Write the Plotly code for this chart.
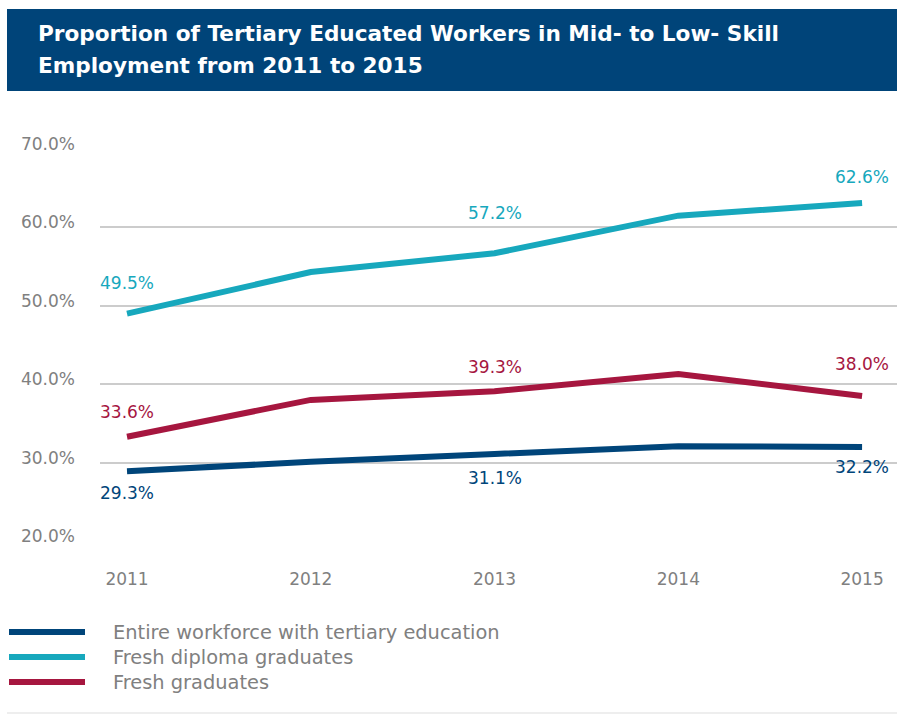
import plotly.graph_objects as go

years = [2011, 2012, 2013, 2014, 2015]
series_names = ["Entire workforce with tertiary education", "Fresh diploma graduates", "Fresh graduates"]
entire = [28.9, 30.1, 31.1, 32.1, 32.0]
diploma = [49.0, 54.3, 56.7, 61.5, 63.1]
graduates = [33.3, 38.0, 39.1, 41.3, 38.5]

label_years = [2011, 2013, 2015]
entire_labels = [29.3, 31.1, 32.2]
diploma_labels = [49.5, 57.2, 62.6]
graduates_labels = [33.6, 39.3, 38.0]

y_ticks = [20, 30, 40, 50, 60, 70]
title_lines = ["Proportion of Tertiary Educated Workers in Mid- to Low- Skill",
               "Employment from 2011 to 2015"]

c_blue = "#00457a"
c_teal = "#17a8bd"
c_red = "#a6163f"
c_banner = "#004479"
c_grey = "#808080"
LABEL_FONT = "DejaVu Sans"

fig = go.Figure()
for name, vals, col in [(series_names[0], entire, c_blue),
                        (series_names[1], diploma, c_teal),
                        (series_names[2], graduates, c_red)]:
    fig.add_trace(go.Scatter(x=years, y=vals, mode="lines", name=name,
                             line=dict(color=col, width=6), showlegend=False,
                             hoverinfo="skip"))

ann = []
def add_labels(vals, labels, col, shifts):
    for yr, lab, sh in zip(label_years, labels, shifts):
        v = vals[years.index(yr)]
        ann.append(dict(x=yr, y=v, xref="x", yref="y", text=f"{lab:.1f}%",
                        showarrow=False, yshift=sh,
                        font=dict(family=LABEL_FONT, size=17, color=col)))

add_labels(diploma, diploma_labels, c_teal, [31, 40, 26])
add_labels(graduates, graduates_labels, c_red, [25, 24, 32])
add_labels(entire, entire_labels, c_blue, [-22, -24, -20])

FW, FH = 897, 714
L, T, W, H = 100, 149, 797, 392
def px(x):
    return (x - L) / W
def py(y):
    return (T + H - y) / H

# Title banner
for i, line in enumerate(title_lines):
    ann.append(dict(x=px(36), y=py(33 + 33 * i), xref="paper", yref="paper",
                    text=f"<b>{line}</b>",
                    showarrow=False, xanchor="left", yanchor="middle", align="left",
                    font=dict(family="DejaVu Sans", size=21.6, color="white")))

shapes = [dict(type="rect", xref="paper", yref="paper", x0=px(7), x1=px(900),
               y0=py(91), y1=py(9), fillcolor=c_banner, line=dict(width=0), layer="below"),
          dict(type="line", xref="paper", yref="paper", x0=px(7), x1=px(900),
               y0=py(713), y1=py(713), line=dict(color="#dddddd", width=1))]
leg_cols = [c_blue, c_teal, c_red]
for i, (name, col) in enumerate(zip(series_names, leg_cols)):
    yy = 632 + 25 * i
    shapes.append(dict(type="line", xref="paper", yref="paper", x0=px(9), x1=px(85),
                       y0=py(yy), y1=py(yy), line=dict(color=col, width=6)))
    ann.append(dict(x=px(111), y=py(yy), xref="paper", yref="paper", text=name,
                    showarrow=False, xanchor="left", yanchor="middle",
                    font=dict(family=LABEL_FONT, size=19.4, color=c_grey)))

fig.update_layout(
    width=FW, height=FH,
    margin=dict(l=L, r=FW - L - W, t=T, b=FH - T - H),
    paper_bgcolor="white", plot_bgcolor="white",
    annotations=ann, shapes=shapes,
    xaxis=dict(range=[2010.853, 2015.19], tickvals=years, ticktext=[str(y) for y in years],
               showgrid=False, zeroline=False, showline=False,
               tickfont=dict(family=LABEL_FONT, size=17, color=c_grey),
               ticklabelstandoff=26),
    yaxis=dict(range=[20, 70], tickvals=y_ticks, ticktext=[f"{v:.1f}%" for v in y_ticks],
               showgrid=True, gridcolor="#cccccc", gridwidth=1.5, zeroline=False,
               tickfont=dict(family=LABEL_FONT, size=17, color=c_grey),
               ticklabelstandoff=24, ticklabelshift=-5),
)

fig.write_html("out.html", config={"displayModeBar": False},
               post_script="document.body.style.margin='0';document.body.style.overflow='hidden';")
